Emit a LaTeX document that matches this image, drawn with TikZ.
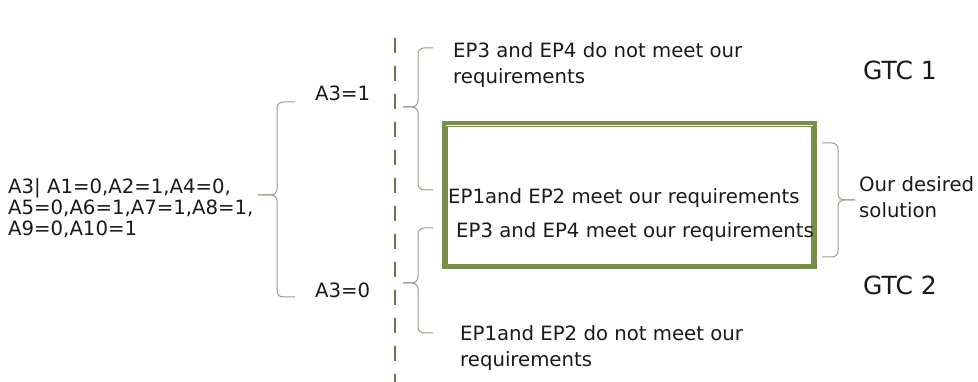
\documentclass[tikz,border=0pt]{standalone}
\usepackage{fontspec}
\setmainfont{DejaVu Sans}
\begin{document}
\begin{tikzpicture}[x=1pt,y=-1pt]
\definecolor{bracec}{HTML}{9A9E8A}
\definecolor{dashc}{HTML}{66744A}
\definecolor{boxc}{HTML}{76904A}
\definecolor{txtc}{HTML}{1A1A1A}
\tikzset{
  lbl/.style={anchor=west, inner sep=0pt, text=txtc, font=\fontsize{19.7}{26}\selectfont, align=left},
  big/.style={anchor=west, inner sep=0pt, text=txtc, font=\fontsize{25}{28}\selectfont},
  brace/.style={draw=bracec, line width=1pt, rounded corners=6pt},
}
\useasboundingbox (0,0) rectangle (978,382);
% dashed divider
\coordinate (dtop) at (395,38);
\coordinate (dbot) at (395,382);
\draw[dashc, line width=2.8pt, dash pattern=on 15pt off 13pt] (dtop) -- (dbot);
% box
\node[draw=boxc, line width=4pt, minimum width=371pt, minimum height=144pt, inner sep=0pt] (box) at (629.5,195.5) {};
\draw[boxc, line width=1.3pt] ([xshift=5pt,yshift=-5pt]box.north west) rectangle ([xshift=-5pt,yshift=5pt]box.south east);
% texts
\node[lbl, font=\fontsize{19.7}{21}\selectfont] (cond) at (8,208) {A3| A1=0,A2=1,A4=0,\\A5=0,A6=1,A7=1,A8=1,\\A9=0,A10=1};
\node[lbl] (a1) at (315,93) {A3=1};
\node[lbl] (a0) at (315,290) {A3=0};
\node[lbl] (t1) at (453,65) {EP3 and EP4 do not meet our\\requirements};
\node[lbl] (t2) at (448,198) {EP1and EP2 meet our requirements};
\node[lbl] (t3) at (456,232) {EP3 and EP4 meet our requirements};
\node[lbl] (t4) at (460,348) {EP1and EP2 do not meet our\\requirements};
\node[lbl] (sol) at (859,197) {Our desired\\solution};
\node[big] (g1) at (863,70) {GTC 1};
\node[big] (g2) at (863,285) {GTC 2};
% braces
\draw[brace] (295,102) -- (277,102) -- (277,195) -- (258,195);
\draw[brace] (258,195) -- (277,195) -- (277,297) -- (295,297);
\draw[brace] (433,48) -- (418,48) -- (418,107) -- (403,107);
\draw[brace] (403,107) -- (418,107) -- (418,190) -- (433,190);
\draw[brace] (433,228) -- (418,228) -- (418,283) -- (403,283);
\draw[brace] (403,283) -- (418,283) -- (418,333) -- (433,333);
\draw[brace] (822,143) -- (838,143) -- (838,200) -- (855,200);
\draw[brace] (855,200) -- (838,200) -- (838,257) -- (822,257);
\end{tikzpicture}
\end{document}
